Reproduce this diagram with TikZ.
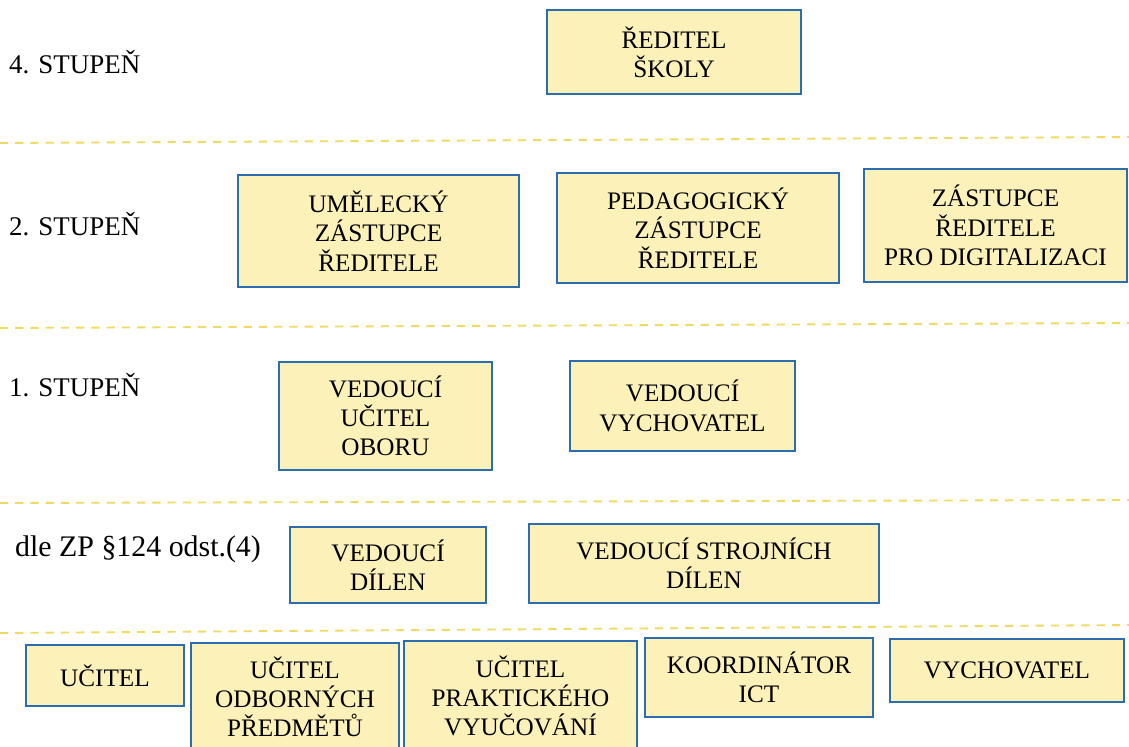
\documentclass[tikz,border=0pt]{standalone}
\usepackage{fontspec}
\setmainfont{Liberation Serif}
\XeTeXinputnormalization=1
\usepackage{xcolor}
\usetikzlibrary{positioning}
\usetikzlibrary{calc}

\definecolor{boxfill}{HTML}{FDF1BA}
\definecolor{boxline}{HTML}{2C6DB2}
\definecolor{sepline}{HTML}{F2DA62}

\begin{document}
\begin{tikzpicture}[x=0.03cm,y=-0.03cm,
  font=\fontsize{21.5pt}{25pt}\selectfont,
  box/.style={draw=boxline,fill=boxfill,line width=2.4pt,align=center,inner sep=0pt},
  level/.style={anchor=west,inner sep=0pt,font=\fontsize{23pt}{27pt}\selectfont},
  sep/.style={draw=sepline,line width=1.6pt,dash pattern=on 7pt off 6pt}]
  \clip (0,0) rectangle (1129,746);
  \fill[white] (0,0) rectangle (1129,746);
  % separators
  \coordinate (s1l) at (0,143);  \coordinate (s1r) at (1129,137);
  \coordinate (s2l) at (0,328);  \coordinate (s2r) at (1129,323);
  \coordinate (s3l) at (0,503);  \coordinate (s3r) at (1129,500);
  \coordinate (s4l) at (0,633);  \coordinate (s4r) at (1129,625);
  \draw[sep] (s1l) -- (s1r);
  \draw[sep] (s2l) -- (s2r);
  \draw[sep] (s3l) -- (s3r);
  \draw[sep] (s4l) -- (s4r);
  % levels
  \node[level] (L4) at (9,62) {4. STUPEŇ};
  \node[level] (L2) at (9,224) {2. STUPEŇ};
  \node[level] (L1) at (9,385) {1. STUPEŇ};
  \node[level,font=\fontsize{25.5pt}{30pt}\selectfont] (LZP) at (15,549) {dle ZP §124 odst.(4)};
  % 4. stupen
  \node[box,minimum width=7.62cm,minimum height=2.52cm] (Reditel) at (674,52) {ŘEDITEL\\ŠKOLY};
  % 2. stupen
  \node[box,minimum width=8.43cm,minimum height=3.36cm] (Umelecky) at (378.5,231) {UMĚLECKÝ\\ZÁSTUPCE\\ŘEDITELE};
  \node[box,minimum width=8.46cm,minimum height=3.3cm] (Pedagogicky) at (698,228) {PEDAGOGICKÝ\\ZÁSTUPCE\\ŘEDITELE};
  \node[box,minimum width=7.89cm,minimum height=3.39cm] (Digital) at (995.5,225.5) {ZÁSTUPCE\\ŘEDITELE\\PRO DIGITALIZACI};
  % 1. stupen
  \node[box,minimum width=6.39cm,minimum height=3.24cm] (VedUcitel) at (385.5,416) {VEDOUCÍ\\UČITEL\\OBORU};
  \node[box,minimum width=6.75cm,minimum height=2.7cm] (VedVych) at (682.5,406) {VEDOUCÍ\\VYCHOVATEL};
  % dle ZP
  \node[box,minimum width=5.88cm,minimum height=2.28cm] (VedDilen) at (388,565) {VEDOUCÍ\\DÍLEN};
  \node[box,minimum width=10.5cm,minimum height=2.37cm] (VedStroj) at (704,563.5) {VEDOUCÍ STROJNÍCH\\DÍLEN};
  % ostatni
  \node[box,minimum width=4.74cm,minimum height=1.83cm] (Ucitel) at (105,675.5) {UČITEL};
  \node[box,minimum width=6.24cm,minimum height=3.24cm] (UcOdb) at (295,697) {UČITEL\\ODBORNÝCH\\PŘEDMĚTŮ};
  \node[box,minimum width=6.99cm,minimum height=3.3cm] (UcPrak) at (520.5,696) {UČITEL\\PRAKTICKÉHO\\VYUČOVÁNÍ};
  \node[box,minimum width=6.84cm,minimum height=2.37cm] (Koord) at (759,677.5) {KOORDINÁTOR\\ICT};
  \node[box,minimum width=7.02cm,minimum height=1.89cm] (Vychov) at (1007,670.5) {VYCHOVATEL};
\end{tikzpicture}
\end{document}
